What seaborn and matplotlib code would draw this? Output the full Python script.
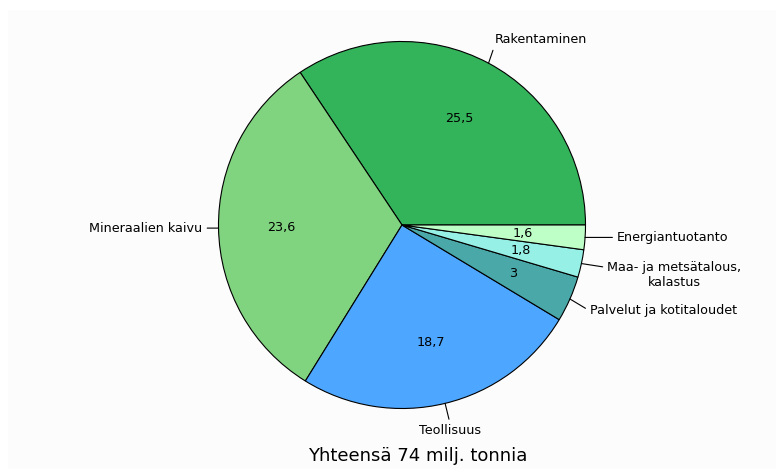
import numpy as np
import matplotlib
matplotlib.use("Agg")
import matplotlib.pyplot as plt
import seaborn as sns

# Data (milj. tonnia)
categories = ["Rakentaminen", "Mineraalien kaivu", "Teollisuus",
              "Palvelut ja kotitaloudet", "Maa- ja metsätalous,\nkalastus",
              "Energiantuotanto"]
values = [25.5, 23.6, 18.7, 3, 1.8, 1.6]
value_labels = ["25,5", "23,6", "18,7", "3", "1,8", "1,6"]
colors = ["#33b35a", "#80d480", "#4da6ff", "#4aa8a8", "#96f0e6", "#beffc8"]
title = "Yhteensä 74 milj. tonnia"

# label offsets from the wedge edge, in pixels (dx, dy), alignment, arrow relpos
label_style = [
    ((6, 24), "left", (0.0, 0.0)),
    ((-16, 0), "right", (1.0, 0.5)),
    ((5, -27), "center", (0.5, 1.0)),
    ((20, -12), "left", (0.0, 0.5)),
    ((93, -11), "center", (0.0, 0.75)),
    ((32, 0), "left", (0.0, 0.5)),
]

sns.set_theme(style="white")
plt.rcParams["font.family"] = ["DejaVu Sans"]
plt.rcParams["text.color"] = "black"

fig = plt.figure(figsize=(7.84, 4.69), dpi=100)
fig.patch.set_facecolor("white")
# faint background panel like the original screenshot
fig.patches.append(plt.Rectangle((8 / 784, 0), 1 - 16 / 784, 1 - 10 / 469,
                                 transform=fig.transFigure, facecolor="#fcfcfc",
                                 edgecolor="none", zorder=-1))

r_px = 183.5
cx, cy = 402, 469 - 225
ax = fig.add_axes([(cx - r_px) / 784, (cy - r_px) / 469, 2 * r_px / 784, 2 * r_px / 469])
ax.set_facecolor("none")

wedges, _ = ax.pie(values, colors=colors, startangle=0, counterclock=True,
                   wedgeprops=dict(edgecolor="black", linewidth=0.8))
ax.set_xlim(-1, 1)
ax.set_ylim(-1, 1)
ax.set_aspect("equal")

fs = 9.2
for w, lab, vlab, (off, ha, relpos) in zip(wedges, categories, value_labels, label_style):
    mid = np.deg2rad((w.theta1 + w.theta2) / 2)
    ax.text(0.66 * np.cos(mid), 0.66 * np.sin(mid), vlab, ha="center", va="center",
            fontsize=fs, color="black")
    ax.annotate(lab, xy=(np.cos(mid), np.sin(mid)), xytext=off,
                textcoords="offset pixels", ha=ha, va="center", fontsize=fs,
                multialignment="center", color="black",
                arrowprops=dict(arrowstyle="-", color="black", lw=0.8,
                                shrinkA=1, shrinkB=0, relpos=relpos),
                annotation_clip=False)

fig.text(418 / 784, 1 - 456 / 469, title, ha="center", va="center", fontsize=13,
         color="black")

fig.savefig("out.png", dpi=100)
